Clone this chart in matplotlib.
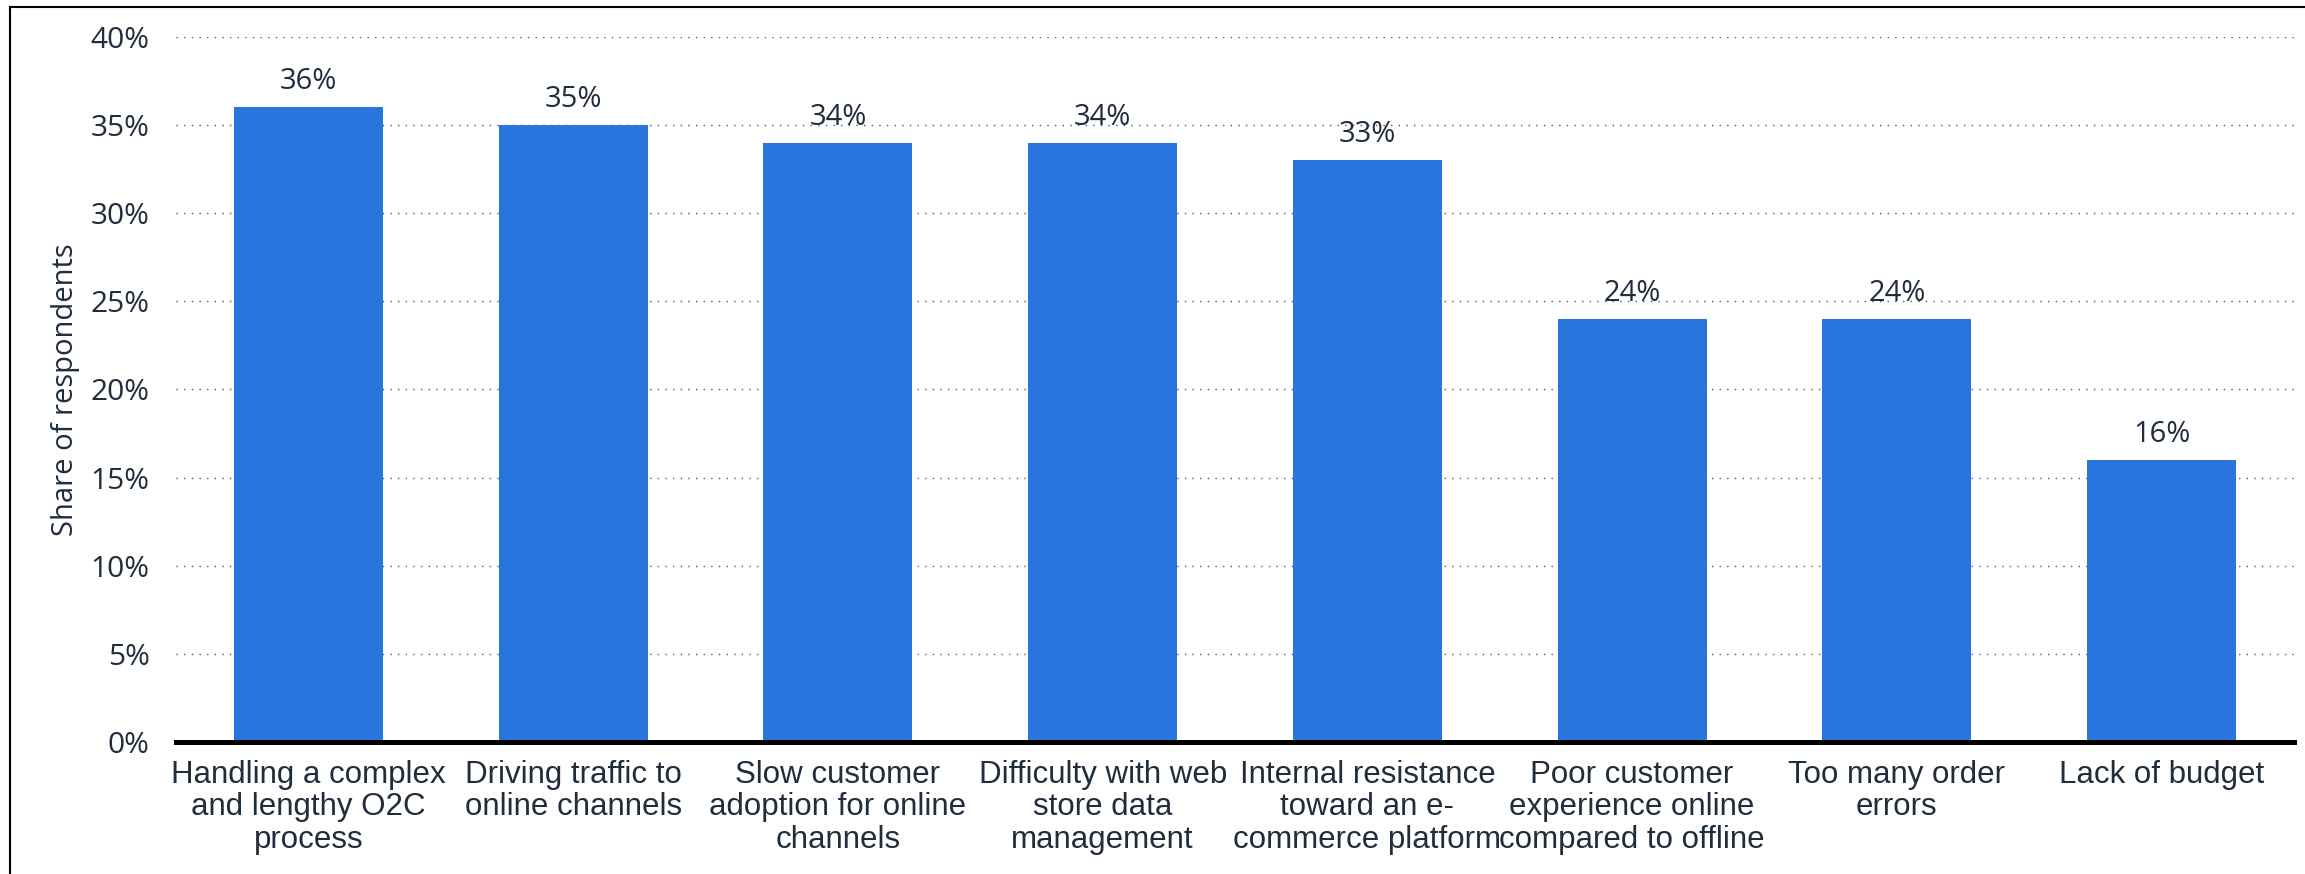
import matplotlib.pyplot as plt
from matplotlib.lines import Line2D

categories = [
    "Handling a complex\nand lengthy O2C\nprocess",
    "Driving traffic to\nonline channels",
    "Slow customer\nadoption for online\nchannels",
    "Difficulty with web\nstore data\nmanagement",
    "Internal resistance\ntoward an e-\ncommerce platform",
    "Poor customer\nexperience online\ncompared to offline",
    "Too many order\nerrors",
    "Lack of budget",
]
values = [36, 35, 34, 34, 33, 24, 24, 16]
yticks = [0, 5, 10, 15, 20, 25, 30, 35, 40]
ytick_labels = [f"{v}%" for v in yticks]

text_color = '#1f2d3d'
bar_color = '#2876dd'

fig = plt.figure(figsize=(23.05, 8.74), dpi=100)
ax = fig.add_axes([0.0764, 0.151, 0.9188, 0.8067])

x = list(range(len(values)))
ax.bar(x, values, width=0.563, color=bar_color, zorder=3)

for xi, v in zip(x, values):
    ax.annotate(f"{v}%", (xi, v), xytext=(0, 8), textcoords='offset points',
                ha='center', va='bottom', fontsize=21, family='Open Sans',
                color=text_color)

ax.set_xlim(-0.5, len(values) - 0.5)
ax.set_ylim(0, 40)
ax.set_yticks(yticks)
ax.set_yticklabels(ytick_labels, fontsize=21.5, family='Open Sans', color=text_color)
ax.set_xticks(x)
ax.set_xticklabels(categories, fontsize=22.5, family='Liberation Sans',
                   color=text_color, linespacing=1.1)
ax.tick_params(axis='y', length=0, pad=19)
ax.tick_params(axis='x', length=0, pad=13)

ax.grid(axis='y', color='#555555', linestyle=(0, (1, 4.5)), linewidth=1.0, zorder=0)
ax.set_axisbelow(True)

for side in ['top', 'right', 'left']:
    ax.spines[side].set_visible(False)
ax.spines['bottom'].set_linewidth(3.6)
ax.spines['bottom'].set_color('black')
ax.spines['bottom'].set_zorder(4)

ax.set_ylabel("Share of respondents", fontsize=21, family='Open Sans', color=text_color)
ax.yaxis.set_label_coords(-0.0453, 0.5)

# frame on the left and top edge of the picture
fig.add_artist(Line2D([10 / 2305, 10 / 2305], [0, 1 - 7 / 874], color='black', lw=1.5))
fig.add_artist(Line2D([10 / 2305, 1], [1 - 7 / 874, 1 - 7 / 874], color='black', lw=1.5))

fig.savefig('out.png', dpi=100)
